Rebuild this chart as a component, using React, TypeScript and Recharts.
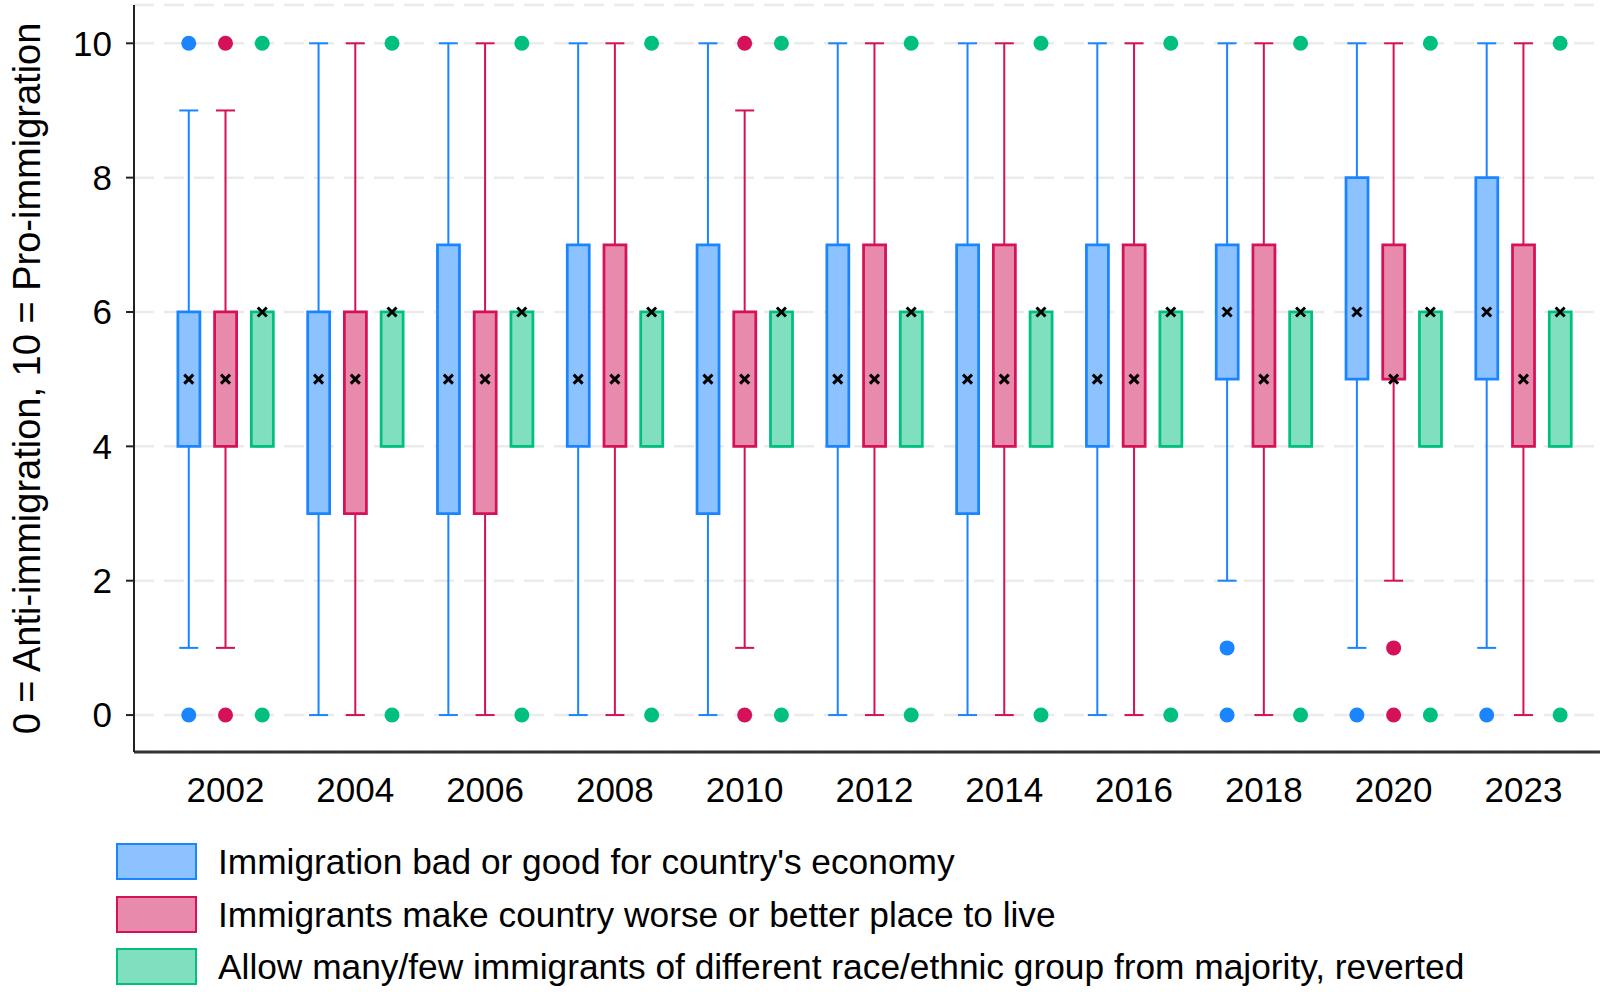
import { Bar, CartesianGrid, ComposedChart, ErrorBar, Legend, Scatter, XAxis, YAxis } from "recharts";

const years = ["2002", "2004", "2006", "2008", "2010", "2012", "2014", "2016", "2018", "2020", "2023"];
const yTicks = [0, 2, 4, 6, 8, 10];

// Immigration bad or good for the economy
const economyQ1 = [4, 3, 3, 4, 3, 4, 3, 4, 5, 5, 5];
const economyMedian = [5, 5, 5, 5, 5, 5, 5, 5, 6, 6, 6];
const economyQ3 = [6, 6, 7, 7, 7, 7, 7, 7, 7, 8, 8];
const economyLow = [1, 0, 0, 0, 0, 0, 0, 0, 2, 1, 1];
const economyHigh = [9, 10, 10, 10, 10, 10, 10, 10, 10, 10, 10];
const economyOutliers = [[0, 10], [], [], [], [], [], [], [], [0, 1], [0], [0]];

// Immigrants make country a worse or better place to live
const placeQ1 = [4, 3, 3, 4, 4, 4, 4, 4, 4, 5, 4];
const placeMedian = [5, 5, 5, 5, 5, 5, 5, 5, 5, 5, 5];
const placeQ3 = [6, 6, 6, 7, 6, 7, 7, 7, 7, 7, 7];
const placeLow = [1, 0, 0, 0, 1, 0, 0, 0, 0, 2, 0];
const placeHigh = [9, 10, 10, 10, 9, 10, 10, 10, 10, 10, 10];
const placeOutliers = [[0, 10], [], [], [], [0, 10], [], [], [], [], [0, 1], []];

// Allow many/few immigrants of a different race or ethnic group (reverted)
const allowQ1 = [4, 4, 4, 4, 4, 4, 4, 4, 4, 4, 4];
const allowMedian = [6, 6, 6, 6, 6, 6, 6, 6, 6, 6, 6];
const allowQ3 = [6, 6, 6, 6, 6, 6, 6, 6, 6, 6, 6];
const allowLow = [4, 4, 4, 4, 4, 4, 4, 4, 4, 4, 4];
const allowHigh = [6, 6, 6, 6, 6, 6, 6, 6, 6, 6, 6];
const allowOutliers = [[0, 10], [0, 10], [0, 10], [0, 10], [0, 10], [0, 10], [0, 10], [0, 10], [0, 10], [0, 10], [0, 10]];

const series = [
  {
    id: "economy",
    label: "Immigration bad or good for country's economy",
    stroke: "#1a85ff",
    fill: "#8cc2ff",
    shift: -0.283,
    q1: economyQ1,
    median: economyMedian,
    q3: economyQ3,
    low: economyLow,
    high: economyHigh,
    outliers: economyOutliers
  },
  {
    id: "place",
    label: "Immigrants make country worse or better place to live",
    stroke: "#d41159",
    fill: "#e88aab",
    shift: 0,
    q1: placeQ1,
    median: placeMedian,
    q3: placeQ3,
    low: placeLow,
    high: placeHigh,
    outliers: placeOutliers
  },
  {
    id: "allow",
    label: "Allow many/few immigrants of different race/ethnic group from majority, reverted",
    stroke: "#00bf7f",
    fill: "#80dfbf",
    shift: 0.283,
    q1: allowQ1,
    median: allowMedian,
    q3: allowQ3,
    low: allowLow,
    high: allowHigh,
    outliers: allowOutliers
  }
];

type SeriesDef = (typeof series)[number];

const X_DOMAIN = [-0.705, 10.59];
const Y_DOMAIN = [-0.55, 10.57];

// box ranges live in the chart rows, one hidden x axis per series keeps the bars from being dodged
const chartData = years.map((year, i) => {
  const row: Record<string, unknown> = { year };
  series.forEach((s) => {
    row[`${s.id}X`] = i + s.shift;
    row[`${s.id}Box`] = [s.q1[i], s.q3[i]];
  });
  return row;
});

const centreRows = (s: SeriesDef) =>
  years.map((_, i) => ({
    x: i + s.shift,
    y: s.median[i],
    err: [s.median[i] - s.low[i], s.high[i] - s.median[i]]
  }));

const outlierRows = (s: SeriesDef) =>
  years.flatMap((_, i) => s.outliers[i].map((v) => ({ x: i + s.shift, y: v })));

const NoMark = () => <g />;

const MedianCross = ({ cx, cy }: any) => (
  <path
    d={`M${cx - 4.5},${cy - 4.5}L${cx + 4.5},${cy + 4.5}M${cx + 4.5},${cy - 4.5}L${cx - 4.5},${cy + 4.5}`}
    stroke="#000"
    strokeWidth={3}
  />
);

const OutlierDot = ({ cx, cy, fill }: any) => <circle cx={cx} cy={cy} r={7.5} fill={fill} />;

const LegendRows = () => (
  <div>
    {series.map((s) => (
      <div key={s.id} style={{ display: "flex", alignItems: "center", height: 52.8 }}>
        <div
          style={{
            width: 81,
            height: 37,
            boxSizing: "border-box",
            border: `2.5px solid ${s.stroke}`,
            background: s.fill
          }}
        />
        <span style={{ marginLeft: 21, fontSize: 35.3, color: "#000", lineHeight: 1, whiteSpace: "nowrap" }}>{s.label}</span>
      </div>
    ))}
  </div>
);

export default function App() {
  return (
    <div style={{ position: "absolute", left: 0, top: 0, fontFamily: "'Liberation Sans', Arial, sans-serif" }}>
      <ComposedChart width={1600} height={992} data={chartData} margin={{ top: 5, right: 0, bottom: 180, left: 0 }}>
        <CartesianGrid vertical={false} stroke="#ebebeb" strokeWidth={2.5} strokeDasharray="20 10" />
        <XAxis
          dataKey="x"
          type="number"
          domain={X_DOMAIN}
          allowDataOverflow
          ticks={years.map((_, i) => i)}
          interval={0}
          tickFormatter={(v: number) => years[v] ?? ""}
          tickLine={false}
          tickSize={0}
          tickMargin={25}
          axisLine={{ stroke: "#333", strokeWidth: 3 }}
          tick={{ fill: "#000", fontSize: 35 }}
          height={60}
        />
        {series.map((s) => (
          <XAxis
            key={s.id}
            xAxisId={s.id}
            dataKey={`${s.id}X`}
            type="number"
            domain={X_DOMAIN}
            allowDataOverflow
            hide
          />
        ))}
        <YAxis
          dataKey="y"
          type="number"
          domain={Y_DOMAIN}
          allowDataOverflow
          ticks={yTicks}
          interval={0}
          width={134}
          tickSize={8}
          tickMargin={14}
          tickLine={{ stroke: "#222", strokeWidth: 2 }}
          axisLine={{ stroke: "#222", strokeWidth: 2 }}
          tick={{ fill: "#000", fontSize: 35 }}
        />

        {/* whiskers first so the boxes sit on top of them */}
        {series.map((s) => (
          <Scatter
            key={`${s.id}-whisker`}
            data={centreRows(s)}
            shape={NoMark}
            zIndex={250}
            isAnimationActive={false}
          >
            <ErrorBar dataKey="err" direction="y" width={9.5} stroke={s.stroke} strokeWidth={2} zIndex={250} isAnimationActive={false} />
          </Scatter>
        ))}

        {series.map((s) => (
          <Bar
            key={`${s.id}-box`}
            xAxisId={s.id}
            dataKey={`${s.id}Box`}
            barSize={22}
            fill={s.fill}
            stroke={s.stroke}
            strokeWidth={2.75}
            zIndex={300}
            isAnimationActive={false}
          />
        ))}

        {series.map((s) => (
          <Scatter key={`${s.id}-median`} data={centreRows(s)} shape={MedianCross} zIndex={600} isAnimationActive={false} />
        ))}

        {series.map((s) => (
          <Scatter
            key={`${s.id}-outliers`}
            data={outlierRows(s)}
            fill={s.stroke}
            shape={OutlierDot}
            zIndex={600}
            isAnimationActive={false}
          />
        ))}

        <text x={40} y={378.5} transform="rotate(-90, 40, 378.5)" textAnchor="middle" fontSize={38} fill="#000">
          0 = Anti-immigration, 10 = Pro-immigration
        </text>

        <Legend
          layout="vertical"
          align="center"
          verticalAlign="middle"
          wrapperStyle={{ top: 835, left: 116, width: "auto", height: "auto" }}
          content={() => <LegendRows />}
        />
      </ComposedChart>
    </div>
  );
}
